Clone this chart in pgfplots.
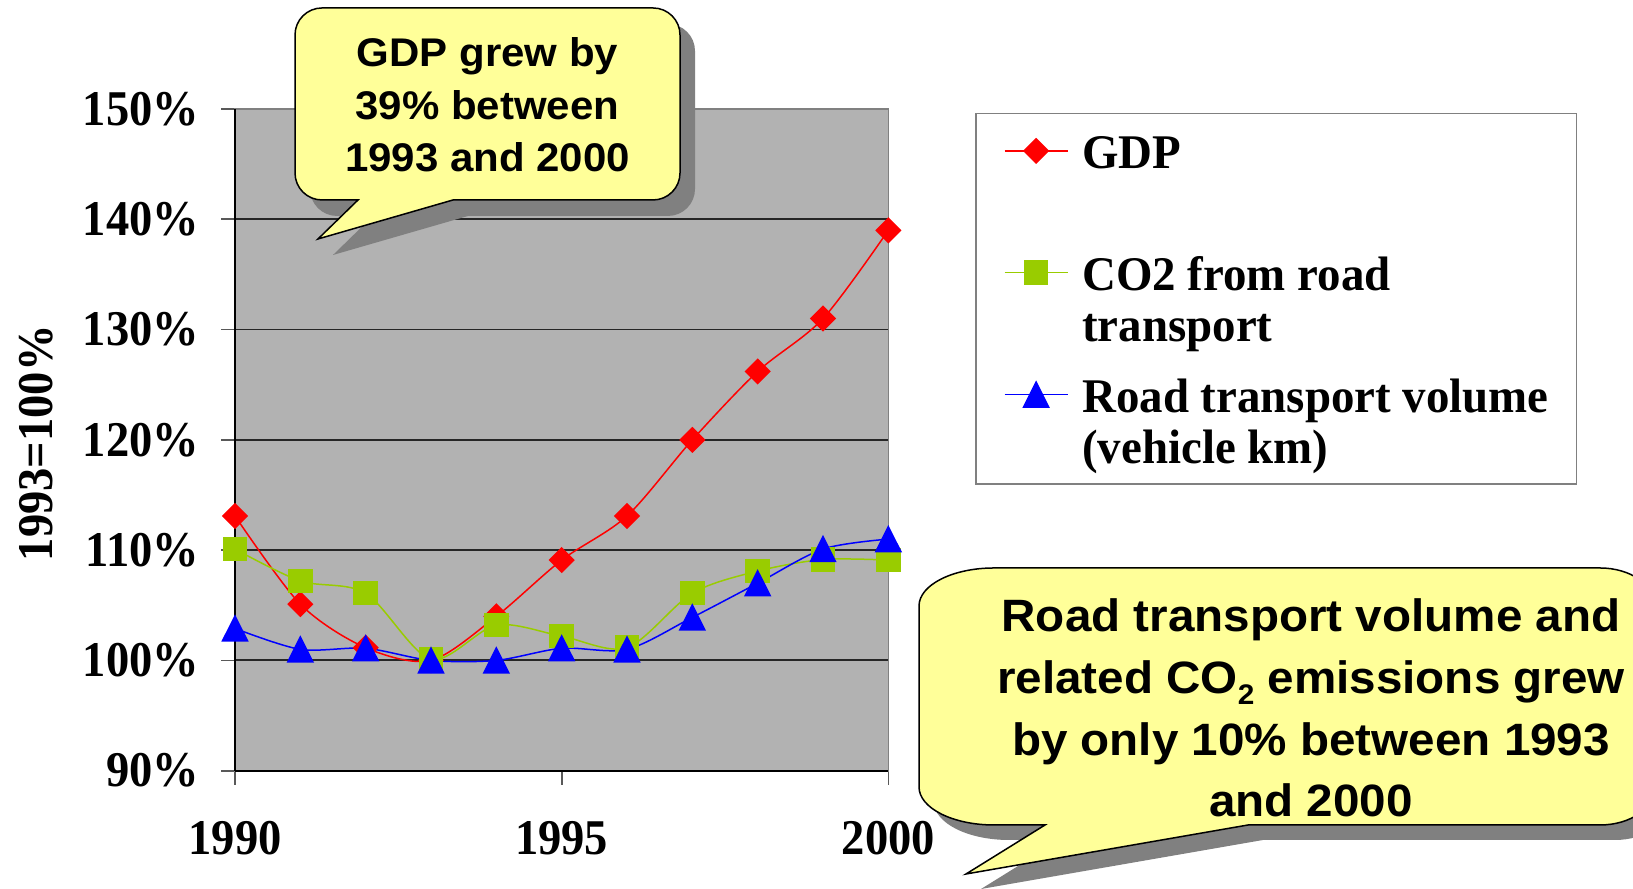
\documentclass[border=0pt]{standalone}
\usepackage{fontspec}
\usepackage{pgfplots}
\pgfplotsset{compat=1.18}
\newfontfamily\tnrA{Liberation Serif}[FakeStretch=0.93]
\newfontfamily\tnrB{Liberation Serif}[FakeStretch=0.97]
\newfontfamily\arl{Liberation Sans}[FakeStretch=1.05]
\definecolor{plotgray}{RGB}{178,178,178}
\definecolor{bubble}{RGB}{255,255,153}
\definecolor{shadowgray}{RGB}{128,128,128}
\definecolor{co2green}{RGB}{153,204,0}
\newcommand{\lt}{\rule{0pt}{11.5pt}}
\begin{document}
\begin{tikzpicture}
\useasboundingbox (0,0) rectangle (489.9pt,266.7pt);
\clip (0,0) rectangle (489.9pt,266.7pt);
\begin{axis}[
  at={(70.5pt,35.49pt)}, anchor=south west,
  scale only axis, width=196pt, height=198.5pt,
  xmin=1990, xmax=2000, ymin=90, ymax=150,
  clip=false,
  xtick={1990,1995,2000}, xticklabels={1990,1995,2000},
  ytick={90,100,110,120,130,140,150},
  yticklabels={90\%,100\%,110\%,120\%,130\%,140\%,150\%},
  tick pos=left, tick align=outside, major tick length=4.2pt,
  minor tick num=0,
  tick style={draw=black!65, line width=0.5pt},
  ymajorgrids, major grid style={draw=black!85, line width=0.55pt},
  axis background/.style={fill=plotgray},
  axis line style={draw=black!50, line width=0.5pt},
  ticklabel style={font=\tnrA\bfseries\fontsize{15}{18}\selectfont, inner sep=0pt},
  yticklabel style={anchor=east, xshift=-6.4pt},
  xticklabel style={anchor=north, yshift=-10.9pt},
  ylabel={1993=100\%},
  ylabel style={font=\tnrA\bfseries\fontsize{15}{18}\selectfont, at={(axis description cs:-0.304,0.495)}, anchor=center, inner sep=0pt},
  legend style={at={(axis description cs:1.1327,0.9944)}, anchor=north west,
    draw=black!50, line width=0.5pt, fill=white,
    inner xsep=8.4pt, inner ysep=4.7pt, row sep=8.0pt, column sep=4.2pt,
    font=\tnrB\bfseries\fontsize{14.5}{15.3}\selectfont,
    nodes={inner sep=0pt},
    cells={anchor=north west, align=left, inner sep=0pt}},
  legend image code/.code={\draw[mark repeat=2,mark phase=2,#1] plot coordinates {(0pt,-6.5pt) (9.45pt,-6.5pt) (18.9pt,-6.5pt)};},
]
\addplot[color=red, line width=0.45pt, smooth, mark=square*, mark size=2.55pt,
  mark options={rotate=45, fill=red, draw=red, solid}] coordinates {
  (1990,113.1) (1991,105.1) (1992,101.15) (1993,100) (1994,104.0) (1995,109.1)
  (1996,113.1) (1997,120.0) (1998,126.2) (1999,131.0) (2000,139.0)};
\addlegendentry{\lt GDP\\\rule[-2.1pt]{0pt}{2.1pt}}
\addplot[color=co2green, line width=0.45pt, smooth, mark=square*, mark size=3.45pt,
  mark options={fill=co2green, draw=co2green, solid}] coordinates {
  (1990,110.1) (1991,107.2) (1992,106.1) (1993,100.1) (1994,103.2) (1995,102.2)
  (1996,101.15) (1997,106.1) (1998,108.1) (1999,109.15) (2000,109.1)};
\addlegendentry{\lt CO2 from road\\transport}
\addplot[color=blue, line width=0.45pt, smooth, mark=triangle*, mark size=4.33pt,
  mark options={yshift=-1.25pt, yscale=1.15, fill=blue, draw=blue, solid}] coordinates {
  (1990,102.9) (1991,101.0) (1992,101.1) (1993,100.0) (1994,100.0) (1995,101.1)
  (1996,101.0) (1997,103.9) (1998,107.0) (1999,110.1) (2000,111.0)};
\addlegendentry{\lt Road transport volume\\(vehicle km)}
\draw[black, line width=0.7pt] (rel axis cs:0,0) -- (rel axis cs:0,1);
\draw[black, line width=0.7pt] (rel axis cs:0,0) -- (rel axis cs:1,0);
\end{axis}
\begin{scope}[x=0.3pt, y=0.3pt]
% bubble 1 shadow
\begin{scope}[shift={(15,-16)}]
\fill[shadowgray] (358,689) -- (322,689) arc[start angle=270, end angle=180, radius=27]
  -- (295,854) arc[start angle=180, end angle=90, radius=27]
  -- (653,881) arc[start angle=90, end angle=0, radius=27]
  -- (680,716) arc[start angle=0, end angle=-90, radius=27]
  -- (453,689) -- (318,650) -- cycle;
\end{scope}
\filldraw[fill=bubble, draw=black, line width=0.45pt] (358,689) -- (322,689) arc[start angle=270, end angle=180, radius=27]
  -- (295,854) arc[start angle=180, end angle=90, radius=27]
  -- (653,881) arc[start angle=90, end angle=0, radius=27]
  -- (680,716) arc[start angle=0, end angle=-90, radius=27]
  -- (453,689) -- (318,650) -- cycle;
% bubble 2 shadow
\begin{scope}[shift={(15,-15)}]
\fill[shadowgray] (1045,64) -- (994,64) arc[start angle=270, end angle=180, x radius=75, y radius=38]
  -- (919,283) arc[start angle=180, end angle=90, x radius=75, y radius=38]
  -- (1600,321) arc[start angle=90, end angle=0, x radius=55, y radius=38]
  -- (1655,102) arc[start angle=0, end angle=-90, x radius=55, y radius=38]
  -- (1248,64) -- (966,15) -- cycle;
\end{scope}
\filldraw[fill=bubble, draw=black, line width=0.45pt] (1045,64) -- (994,64) arc[start angle=270, end angle=180, x radius=75, y radius=38]
  -- (919,283) arc[start angle=180, end angle=90, x radius=75, y radius=38]
  -- (1600,321) arc[start angle=90, end angle=0, x radius=55, y radius=38]
  -- (1655,102) arc[start angle=0, end angle=-90, x radius=55, y radius=38]
  -- (1248,64) -- (966,15) -- cycle;
\end{scope}
\node[font=\arl\bfseries\fontsize{12}{15.75}\selectfont, align=center, anchor=base, inner sep=0pt] at (146.25pt,215.1pt) {GDP grew by\\39\% between\\1993 and 2000};
\node[font=\arl\bfseries\fontsize{13.6}{18.5}\selectfont, align=center, anchor=base, inner sep=0pt] at (393.3pt,21.69pt) {Road transport volume and\\related CO\raisebox{-0.45ex}{\fontsize{8.5}{8.5}\selectfont 2} emissions grew\\by only 10\% between 1993\\and 2000};
\end{tikzpicture}
\end{document}
